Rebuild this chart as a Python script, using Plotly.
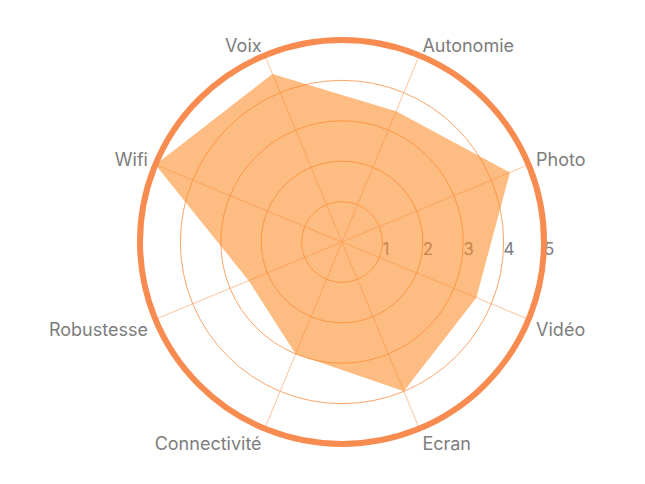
import math
import plotly.graph_objects as go

categories = ["Voix", "Autonomie", "Photo", "Vidéo", "Ecran", "Connectivité", "Robustesse", "Wifi"]
values = [4.5, 3.5, 4.5, 3.6, 4.0, 3.0, 2.5, 5.0]
radial_ticks = [1, 2, 3, 4, 5]

RMAX = 5
LABEL_R = 5.2          # where category labels sit (in value units)
OUTER_RMAX = 5.6       # range of the transparent label subplot
ROTATION = 112.5
n = len(categories)
step = 360.0 / n
theta = [i * step for i in range(n)]

W, H = 645, 484
CX, CY = 334, 250      # chart centre in figure px (x from left, y from bottom)
RADIUS = 202           # outer ring radius in px


def domain_for(radius_px):
    return dict(
        x=[(CX - radius_px) / W, (CX + radius_px) / W],
        y=[(CY - radius_px) / H, (CY + radius_px) / H],
    )


label_color = "#7d7d7d"
font_family = "Inter, Open Sans, Arial, sans-serif"

fig = go.Figure()

# radial tick labels (drawn first so the translucent area sits above them)
east_theta = ROTATION  # clockwise: screen angle = rotation - theta
fig.add_trace(go.Scatterpolar(
    r=radial_ticks,
    theta=[east_theta] * len(radial_ticks),
    mode="text",
    text=[str(v) for v in radial_ticks],
    textposition="bottom right",
    textfont=dict(family=font_family, size=17, color=label_color),
    cliponaxis=False,
    hoverinfo="skip",
    showlegend=False,
    subplot="polar",
))

# data area
fig.add_trace(go.Scatterpolar(
    r=values + values[:1],
    theta=theta + theta[:1],
    mode="none",
    fill="toself",
    fillcolor="rgba(252,140,40,0.58)",
    hoverinfo="skip",
    showlegend=False,
    subplot="polar",
))

# category labels outside the ring (on a transparent, larger polar subplot)
positions = []
for t in theta:
    a = math.radians(ROTATION - t)
    v = "middle" if math.sin(a) > 0 else "bottom"
    h = "right" if math.cos(a) > 0 else "left"
    positions.append(f"{v} {h}")

fig.add_trace(go.Scatterpolar(
    r=[LABEL_R] * n,
    theta=theta,
    mode="text",
    text=categories,
    textposition=positions,
    textfont=dict(family=font_family, size=18, color=label_color),
    cliponaxis=False,
    hoverinfo="skip",
    showlegend=False,
    subplot="polar2",
))

hidden_axis = dict(visible=False, showgrid=False, showline=False, showticklabels=False, ticks="")

fig.update_layout(
    width=W, height=H,
    margin=dict(l=0, r=0, t=0, b=0),
    paper_bgcolor="white",
    plot_bgcolor="white",
    showlegend=False,
    polar=dict(
        bgcolor="white",
        domain=domain_for(RADIUS),
        radialaxis=dict(
            range=[0, RMAX],
            tickvals=radial_ticks,
            showticklabels=False,
            angle=0,
            showline=False,
            ticks="",
            gridcolor="#fba46a",
            gridwidth=1,
            layer="below traces",
        ),
        angularaxis=dict(
            type="linear",
            thetaunit="degrees",
            direction="clockwise",
            rotation=ROTATION,
            tickmode="array",
            tickvals=theta,
            showticklabels=False,
            showline=True,
            linecolor="#f78b50",
            linewidth=6,
            gridcolor="#fdc4a0",
            gridwidth=1,
            ticks="",
        ),
    ),
    polar2=dict(
        bgcolor="rgba(0,0,0,0)",
        domain=domain_for(RADIUS * OUTER_RMAX / RMAX),
        radialaxis=dict(range=[0, OUTER_RMAX], **hidden_axis),
        angularaxis=dict(
            type="linear",
            thetaunit="degrees",
            direction="clockwise",
            rotation=ROTATION,
            **hidden_axis,
        ),
    ),
)

fig.write_html("out.html")
